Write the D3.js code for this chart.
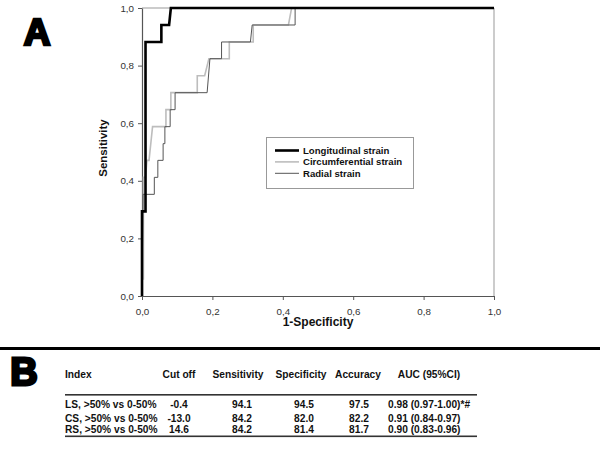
<!DOCTYPE html>
<html><head><meta charset="utf-8">
<script src="https://cdn.jsdelivr.net/npm/d3@7"></script>
<style>body{margin:0;background:#fff}svg{display:block}text{font-family:"Liberation Sans",Arial,sans-serif}.b{font-weight:700}</style>
</head><body><svg id="c" width="600" height="450"></svg>
<script>
// ROC data (1-specificity, sensitivity)
const longitudinal = [[0,0],[0,0.294],[0.01,0.294],[0.01,0.882],[0.055,0.882],[0.055,0.941],[0.077,0.941],[0.082,1],[1,1]];
const circumferential = [[0,0],[0,0.059],[0.004,0.059],[0.004,0.412],[0.01,0.412],[0.014,0.471],[0.02,0.471],[0.03,0.588],[0.068,0.588],[0.068,0.647],[0.082,0.647],[0.082,0.706],[0.157,0.706],[0.157,0.765],[0.178,0.765],[0.19,0.824],[0.248,0.824],[0.248,0.882],[0.316,0.882],[0.316,0.941],[0.416,0.941],[0.425,1],[1,1]];
const radial = [[0,0],[0.003,0.353],[0.035,0.353],[0.035,0.412],[0.045,0.412],[0.045,0.471],[0.06,0.471],[0.06,0.529],[0.065,0.529],[0.065,0.588],[0.08,0.588],[0.08,0.647],[0.094,0.647],[0.094,0.706],[0.185,0.706],[0.193,0.824],[0.226,0.824],[0.226,0.882],[0.308,0.882],[0.313,0.941],[0.435,0.941],[0.435,1],[1,1]];
const seriesNames = ["Longitudinal strain","Circumferential strain","Radial strain"];
const xTicks = [0,0.2,0.4,0.6,0.8,1.0];
const yTicks = [0,0.2,0.4,0.6,0.8,1.0];

// Table data
const tableHeader = ["Index","Cut off","Sensitivity","Specificity","Accuracy","AUC (95%CI)"];
const tIndex = ["LS, >50% vs 0-50%","CS, >50% vs 0-50%","RS, >50% vs 0-50%"];
const tCutoff = ["-0.4","-13.0","14.6"];
const tSens = ["94.1","84.2","84.2"];
const tSpec = ["94.5","82.0","81.4"];
const tAcc = ["97.5","82.2","81.7"];
const tAuc = ["0.98 (0.97-1.00)*#","0.91 (0.84-0.97)","0.90 (0.83-0.96)"];

const svg = d3.select("#c");
const x = d3.scaleLinear().domain([0,1]).range([142,494]);
const y = d3.scaleLinear().domain([0,1]).range([296,8]);
const fmt = d => d3.format(".1f")(d).replace(".",",");

// frame (top & right)
svg.append("line").attr("x1",x(0)).attr("x2",x(1)).attr("y1",y(1)).attr("y2",y(1)).attr("stroke","#999").attr("stroke-width",1);
svg.append("line").attr("x1",x(1)).attr("x2",x(1)).attr("y1",y(0)).attr("y2",y(1)).attr("stroke","#999").attr("stroke-width",1);

const xAxis = svg.append("g").attr("transform",`translate(0,${y(0)})`)
  .call(d3.axisBottom(x).tickValues(xTicks).tickFormat(fmt).tickSize(4).tickSizeOuter(0));
const yAxis = svg.append("g").attr("transform",`translate(${x(0)},0)`)
  .call(d3.axisLeft(y).tickValues(yTicks).tickFormat(fmt).tickSize(4).tickSizeOuter(0));
[xAxis,yAxis].forEach(g=>{
  g.select(".domain").attr("stroke","#555").attr("stroke-width",1.2);
  g.selectAll(".tick line").attr("stroke","#555");
  g.selectAll("text").attr("font-size",9.8).attr("fill","#333").attr("font-family","Liberation Sans, Arial, sans-serif");
});
xAxis.selectAll("text").attr("dy","1.2em");
yAxis.selectAll("text").attr("dx","-0.1em");

const line = d3.line().x(d=>x(d[0])).y(d=>y(d[1]));
const styles = [
  {data:circumferential,color:"#bdbdbd",w:1.6},
  {data:radial,color:"#555",w:1},
  {data:longitudinal,color:"#000",w:2.6}
];
styles.forEach(s=>{
  svg.append("path").datum(s.data).attr("d",line).attr("fill","none")
    .attr("stroke",s.color).attr("stroke-width",s.w).attr("stroke-linejoin","miter");
});

// legend
const lg = svg.append("g");
lg.append("rect").attr("x",266.5).attr("y",137.5).attr("width",147).attr("height",51)
  .attr("fill","#fff").attr("stroke","#999").attr("stroke-width",1);
const legStyles = [{c:"#000",w:2.6},{c:"#bdbdbd",w:1.6},{c:"#555",w:1}];
seriesNames.forEach((n,i)=>{
  const yy = 150.5 + i*11.4;
  lg.append("line").attr("x1",275).attr("x2",299).attr("y1",yy).attr("y2",yy)
    .attr("stroke",legStyles[i].c).attr("stroke-width",legStyles[i].w);
  lg.append("text").attr("class","b").attr("x",303).attr("y",yy+3.5).attr("font-size",9.6).attr("fill","#111").text(n);
});

// axis titles
svg.append("text").attr("class","b").attr("x",318).attr("y",326).attr("text-anchor","middle").attr("font-size",12).attr("fill","#111").text("1-Specificity");
svg.append("text").attr("class","b").attr("transform","translate(107,148) rotate(-90)").attr("text-anchor","middle").attr("font-size",11.5).attr("fill","#111").text("Sensitivity");

// panel letters
svg.append("text").attr("class","b").attr("x",37).attr("y",45).attr("text-anchor","middle").attr("font-size",37)
  .attr("fill","#000").attr("stroke","#000").attr("stroke-width",2.6).text("A");
svg.append("text").attr("class","b").attr("x",24).attr("y",385).attr("text-anchor","middle").attr("font-size",38)
  .attr("fill","#000").attr("stroke","#000").attr("stroke-width",2.8).text("B");

// separator
svg.append("rect").attr("x",0).attr("y",347).attr("width",600).attr("height",3).attr("fill","#000");

// table
const colX = [65,179,242,304,359,388];
const colAnchor = ["start","middle","middle","middle","middle","start"];
const headX = [65,179,238,301,358,429];
const headAnchor = ["start","middle","middle","middle","middle","middle"];
const tb = svg.append("g");
tableHeader.forEach((h,i)=>{
  tb.append("text").attr("class","b").attr("font-size",10.2).attr("fill","#111").attr("x",headX[i]).attr("y",377.5).attr("text-anchor",headAnchor[i]).text(h);
});
tb.append("rect").attr("x",65).attr("y",394).attr("width",412).attr("height",1.6).attr("fill","#333");
tb.append("rect").attr("x",65).attr("y",435.5).attr("width",412).attr("height",1.6).attr("fill","#333");
const cols = [tIndex,tCutoff,tSens,tSpec,tAcc,tAuc];
const rowY = [408,422,433];
tIndex.forEach((_,r)=>{
  cols.forEach((col,c)=>{
    tb.append("text").attr("class","b").attr("font-size",10.2).attr("fill","#111").attr("x",colX[c]).attr("y",rowY[r]).attr("text-anchor",colAnchor[c]).text(col[r]);
  });
});
</script></body></html>
